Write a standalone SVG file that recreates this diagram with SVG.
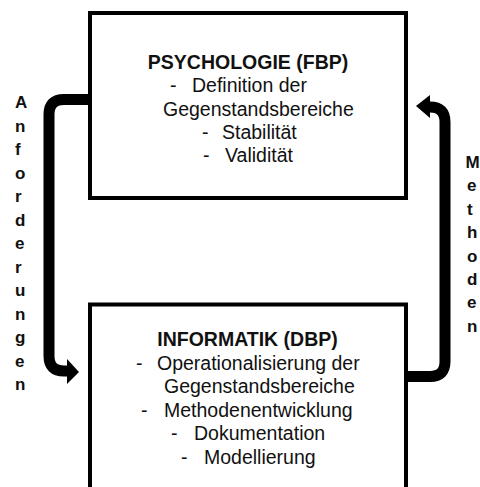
<svg xmlns="http://www.w3.org/2000/svg" width="480" height="487" viewBox="0 0 480 487">
<style>
.box{fill:#fff;stroke:#000;stroke-width:4}
.t{font-family:"Liberation Sans",Arial,sans-serif;font-size:19.5px;fill:#111}
.b{font-weight:bold}
.v{font-family:"Liberation Sans",Arial,sans-serif;font-size:17px;font-weight:bold;fill:#111}
.c{fill:none;stroke:#000;stroke-width:11}
.h{fill:#000}
</style>
<rect width="480" height="487" fill="#fff"/>
<g id="connectors">
<path class="c" d="M90 99.5 H64 Q49 99.5 49 114.5 V356 Q49 371 64 371 H69"/>
<polygon class="h" points="67,359 79,372 67,384"/>
<path class="c" d="M406 376.5 H430 Q445 376.5 445 361.5 V122 Q445 107 430 107 H428"/>
<polygon class="h" points="430,95 416,106 430,118"/>
</g>
<g id="psychologie">
<rect class="box" x="90" y="13" width="316" height="185"/>
<text class="t b" x="248" y="69" text-anchor="middle">PSYCHOLOGIE (FBP)</text>
<text class="t" x="170" y="92">-</text><text class="t" x="192" y="92">Definition der</text>
<text class="t" x="163" y="115.5">Gegenstandsbereiche</text>
<text class="t" x="202" y="139">-</text><text class="t" x="222" y="139">Stabilität</text>
<text class="t" x="203" y="162">-</text><text class="t" x="225" y="162">Validität</text>
</g>
<g id="informatik">
<rect class="box" x="90" y="304.5" width="316" height="200"/>
<text class="t b" x="247.5" y="346" text-anchor="middle">INFORMATIK (DBP)</text>
<text class="t" x="136" y="369.5">-</text><text class="t" x="157" y="369.5">Operationalisierung der</text>
<text class="t" x="164" y="393">Gegenstandsbereiche</text>
<text class="t" x="141" y="416.5">-</text><text class="t" x="164" y="416.5">Methodenentwicklung</text>
<text class="t" x="171" y="440">-</text><text class="t" x="194" y="440">Dokumentation</text>
<text class="t" x="181" y="463.5">-</text><text class="t" x="204" y="463.5">Modellierung</text>
</g>
<g id="label-anforderungen">
<text class="v" x="15" y="108">A</text>
<text class="v" x="15" y="131.5">n</text>
<text class="v" x="15" y="155">f</text>
<text class="v" x="15" y="178.5">o</text>
<text class="v" x="15" y="202">r</text>
<text class="v" x="15" y="225.5">d</text>
<text class="v" x="15" y="249">e</text>
<text class="v" x="15" y="272.5">r</text>
<text class="v" x="15" y="296">u</text>
<text class="v" x="15" y="319.5">n</text>
<text class="v" x="15" y="343">g</text>
<text class="v" x="15" y="366.5">e</text>
<text class="v" x="15" y="390">n</text>
</g>
<g id="label-methoden">
<text class="v" x="465.5" y="168">M</text>
<text class="v" x="467" y="191.4">e</text>
<text class="v" x="467" y="214.8">t</text>
<text class="v" x="467" y="238.2">h</text>
<text class="v" x="467" y="261.6">o</text>
<text class="v" x="467" y="285">d</text>
<text class="v" x="467" y="308.4">e</text>
<text class="v" x="467" y="331.8">n</text>
</g>
</svg>
